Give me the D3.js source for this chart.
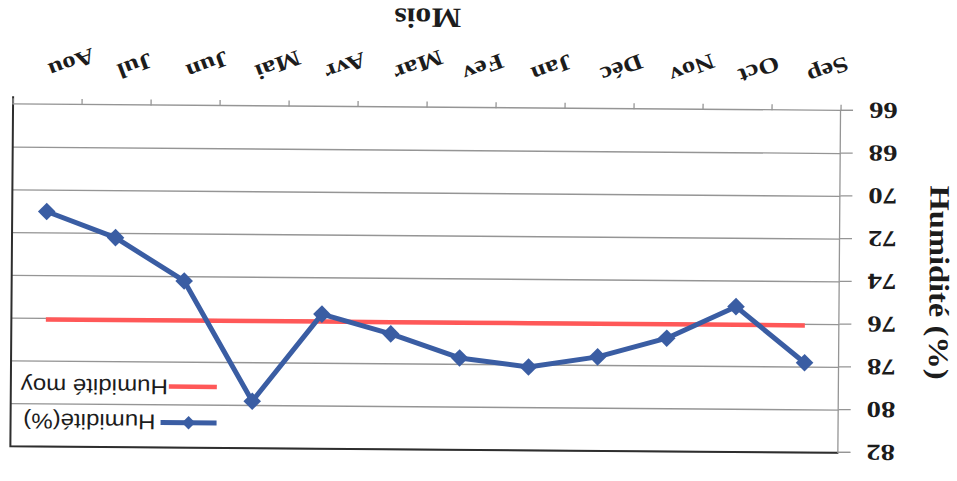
<!DOCTYPE html>
<html>
<head>
<meta charset="utf-8">
<script src="https://cdn.jsdelivr.net/npm/d3@7"></script>
<style>
  html, body { margin: 0; padding: 0; background: #fff; }
  svg { display: block; }
</style>
</head>
<body>
<svg id="chart" width="957" height="481"></svg>
<script>
// Monthly relative humidity, September to August
const months = ["Sep", "Oct", "Nov", "Déc", "Jan", "Fev", "Mar", "Avr", "Mai", "Jun", "Jul", "Aou"];
const humidite = [77.8, 75.2, 76.7, 77.6, 78.1, 77.7, 76.6, 75.7, 79.8, 74.2, 72.2, 71.0];
const humiditeMoy = [76.05, 76.05, 76.05, 76.05, 76.05, 76.05, 76.05, 76.05, 76.05, 76.05, 76.05, 76.05];
const yTicks = [66, 68, 70, 72, 74, 76, 78, 80, 82];
const seriesNames = ["Humidité(%)", "Humidité moy"];

const W = 957, H = 481;
const BLUE = "#3a5da3", RED = "#ff5858", GRID = "#959595", INK = "#1c1c1c";
const serif = "'Liberation Serif', 'Times New Roman', serif";
const sans = "'Liberation Sans', Arial, sans-serif";

const svg = d3.select("#chart");
svg.append("rect").attr("width", W).attr("height", H).attr("fill", "#fff");

// The sheet is mounted upside down, slightly skewed
const g = svg.append("g").attr("transform", `rotate(180.45 ${W / 2} ${H / 2})`);

const plotL = 117, plotR = 945, plotT = 31, plotB = 373;
const x = d3.scaleBand().domain(months).range([plotL, plotR]);
const y = d3.scaleLinear().domain([66, 82]).range([plotB, plotT]);
const cx = m => x(m) + x.bandwidth() / 2;

// horizontal gridlines
g.append("g").selectAll("line").data(yTicks.filter(v => v > 66)).join("line")
  .attr("x1", plotL).attr("x2", plotR)
  .attr("y1", d => y(d)).attr("y2", d => y(d))
  .attr("stroke", GRID).attr("stroke-width", 1.3);

// plot frame (top and right edges)
g.append("path")
  .attr("d", `M${plotL},${y(82)}H${plotR}V${y(66) + 8}`)
  .attr("fill", "none").attr("stroke", "#2e2e2e").attr("stroke-width", 2);

// value axis
const yAxis = g.append("g").attr("transform", `translate(${plotL},0)`)
  .call(d3.axisLeft(y).tickValues(yTicks).tickSize(12).tickPadding(0));
yAxis.select(".domain").attr("stroke", GRID).attr("stroke-width", 1.3);
yAxis.selectAll(".tick line").attr("stroke", GRID).attr("stroke-width", 1.3);
yAxis.selectAll(".tick text")
  .attr("x", -28 / 1.25).attr("dy", "0.34em")
  .attr("transform", "scale(1.25,1)")
  .attr("text-anchor", "end")
  .attr("font-family", serif).attr("font-weight", "bold").attr("font-size", 23)
  .attr("fill", INK);

// category axis
const xAxis = g.append("g").attr("transform", `translate(0,${plotB})`)
  .call(d3.axisBottom(x).tickSize(0));
xAxis.select(".domain").attr("stroke", GRID).attr("stroke-width", 1.3);
xAxis.selectAll(".tick text")
  .attr("y", 0).attr("dy", 0)
  .attr("text-anchor", "end")
  .attr("transform", "translate(1,40) rotate(-21) scale(1.22,1)")
  .attr("font-family", serif).attr("font-weight", "bold").attr("font-size", 22)
  .attr("fill", INK);
// tick marks on category boundaries
g.append("g").selectAll("line").data(months.map(m => x(m)).concat([plotR])).join("line")
  .attr("x1", d => d).attr("x2", d => d)
  .attr("y1", plotB).attr("y2", plotB + 6)
  .attr("stroke", GRID).attr("stroke-width", 1.3);

// axis titles
g.append("text")
  .attr("transform", `translate(${(plotL + plotR) / 2},472) scale(1.13,1)`)
  .attr("text-anchor", "middle")
  .attr("font-family", serif).attr("font-weight", "bold").attr("font-size", 28)
  .attr("fill", INK).text("Mois");
g.append("text")
  .attr("transform", `translate(27,${(plotT + plotB) / 2}) rotate(-90) scale(1.16,1)`)
  .attr("text-anchor", "middle")
  .attr("font-family", serif).attr("font-weight", "bold").attr("font-size", 28)
  .attr("fill", INK).text("Humidité (%)");

// average line
g.append("path").datum(humiditeMoy.map((v, i) => [months[i], v]))
  .attr("d", d3.line().x(d => cx(d[0])).y(d => y(d[1])))
  .attr("fill", "none").attr("stroke", RED).attr("stroke-width", 4.5);

// humidity series
const pts = humidite.map((v, i) => [months[i], v]);
g.append("path").datum(pts)
  .attr("d", d3.line().x(d => cx(d[0])).y(d => y(d[1])))
  .attr("fill", "none").attr("stroke", BLUE).attr("stroke-width", 5)
  .attr("stroke-linejoin", "round");
const diamond = d3.symbol().type(d3.symbolSquare);
g.append("g").selectAll("path").data(pts).join("path")
  .attr("d", diamond.size(155)())
  .attr("transform", d => `translate(${cx(d[0])},${y(d[1])}) rotate(45)`)
  .attr("fill", BLUE);

// legend
const lg = g.append("g");
lg.append("line").attr("x1", 739).attr("x2", 795).attr("y1", 56).attr("y2", 56)
  .attr("stroke", BLUE).attr("stroke-width", 5);
lg.append("path").attr("d", diamond.size(90)())
  .attr("transform", "translate(767,56) rotate(45)").attr("fill", BLUE);
lg.append("text").attr("transform", "translate(800,64) scale(1.12,1)")
  .attr("font-family", sans).attr("font-size", 21.5).attr("fill", INK)
  .text(seriesNames[0]);
lg.append("line").attr("x1", 739).attr("x2", 787).attr("y1", 92).attr("y2", 92)
  .attr("stroke", RED).attr("stroke-width", 4.5);
lg.append("text").attr("transform", "translate(788,99) scale(1.12,1)")
  .attr("font-family", sans).attr("font-size", 21.5).attr("fill", INK)
  .text(seriesNames[1]);
</script>
</body>
</html>
